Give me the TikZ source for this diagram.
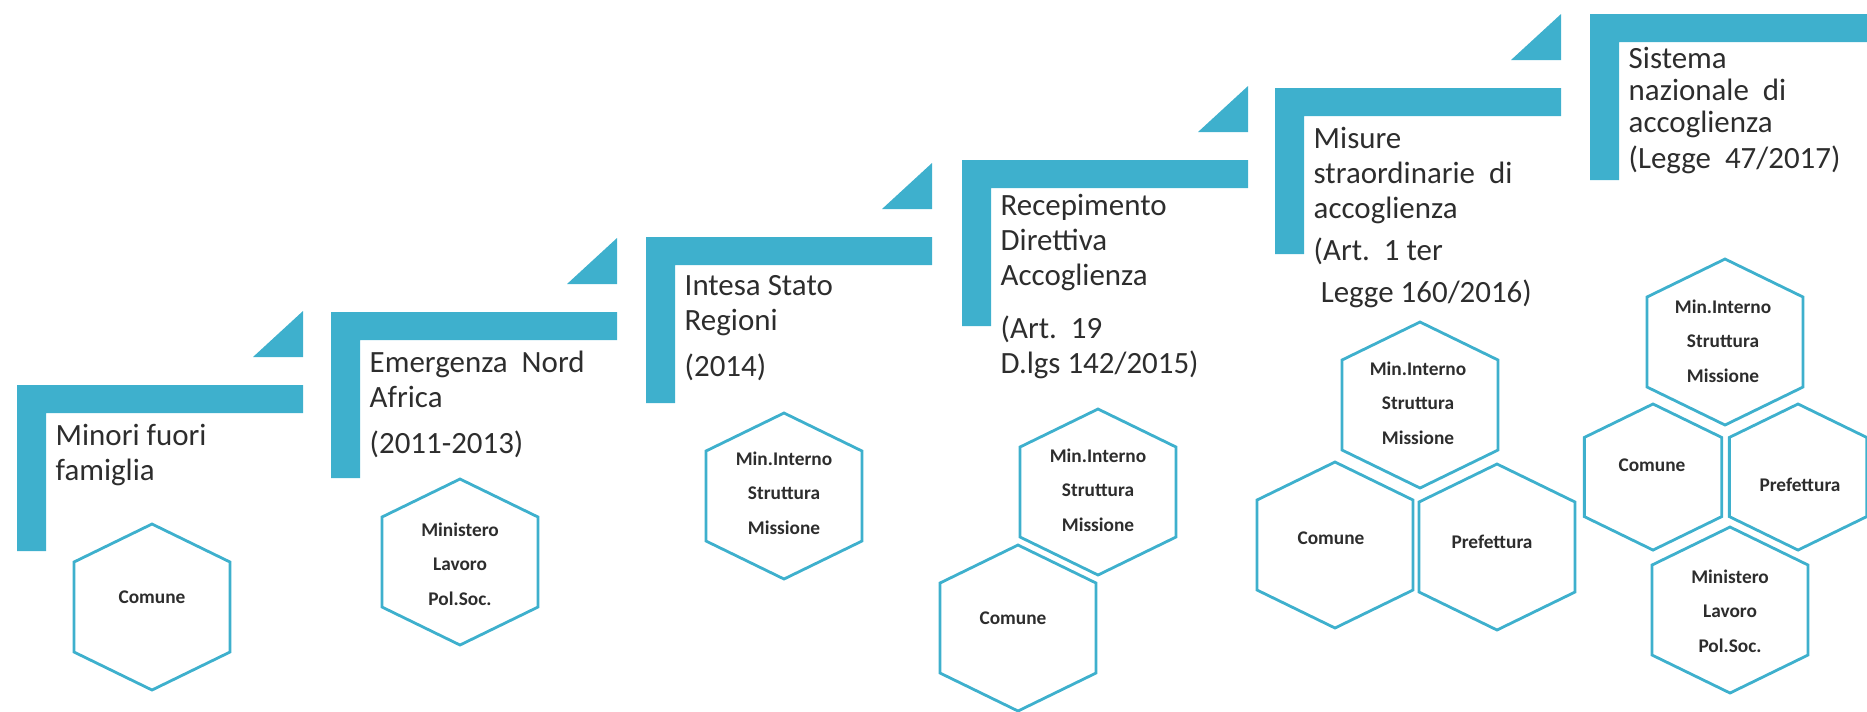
\documentclass[tikz,border=0pt]{standalone}
\usepackage{fontspec}
\setmainfont{Carlito}
\usepackage{tikz}
\definecolor{stepblue}{RGB}{62,176,205}
\definecolor{textgrey}{RGB}{45,45,45}

\begin{document}
\begin{tikzpicture}[x=0.1mm,y=-0.1mm,
  stepbar/.style={fill=stepblue},
  steptext/.style={anchor=north west,inner sep=0pt,align=left,text=textgrey,font=\fontsize{8.8}{10}\selectfont},
  hexline/.style={draw=stepblue,line width=0.8pt},
  hextext/.style={inner sep=0pt,align=center,text=textgrey,font=\fontsize{5.5}{9.8}\selectfont\bfseries},
  stair/.pic={\fill[stepbar] (0,0) -- (286,0) -- (286,28) -- (29,28) -- (29,166) -- (0,166) -- cycle;
              \fill[stepbar] (236,-28) -- (286,-28) -- (286,-74) -- cycle;},
  hexcell/.pic={\draw[hexline,scale=#1] (0,-83) -- (78,-45) -- (78,45) -- (0,83) -- (-78,45) -- (-78,-45) -- cycle;},
  pics/hexcell/.default=1]
\clip (0,0) rectangle (1867,711);

% Steps
\pic at (17,385) {stair};
\pic at (331,312) {stair};
\pic at (646,237) {stair};
\pic at (962,160) {stair};
\pic at (1275,88) {stair};
\pic at (1590,14) {stair};

% Step labels
\node[steptext] (t1) at (55,423) {Minori fuori\\famiglia};
\node[steptext] (t2) at (369,350) {Emergenza~~Nord\\Africa\\[3pt](2011-2013)};
\node[steptext] (t3) at (684,275) {Intesa Stato\\Regioni\\[3pt](2014)};
\node[steptext] (t4) at (1000,193) {Recepimento\\Direttiva\\Accoglienza\\[5pt](Art.~~19\\D.lgs 142/2015)};
\node[steptext] (t5) at (1313,126) {Misure\\straordinarie~~di\\accoglienza\\[2pt](Art.~~1 ter\\[2pt]\hspace*{2pt}Legge 160/2016)};
\node[steptext,font=\fontsize{8.8}{9.2}\selectfont] (t6) at (1628,46) {Sistema\\nazionale~~di\\accoglienza\\[1pt](Legge~~47/2017)};

% Actors, step 1
\pic at (152,607) {hexcell};
\node[hextext] (c1) at (152,597) {Comune};

% Actors, step 2
\pic at (460,562) {hexcell};
\node[hextext] (l2) at (460,564) {Ministero\\Lavoro\\Pol.Soc.};

% Actors, step 3
\pic at (784,496) {hexcell};
\node[hextext] (i3) at (784,493) {Min.Interno\\Struttura\\Missione};

% Actors, step 4
\pic at (1098,492) {hexcell};
\node[hextext] (i4) at (1098,490) {Min.Interno\\Struttura\\Missione};
\pic at (1018,628) {hexcell};
\node[hextext] (c4) at (1013,618) {Comune};

% Actors, step 5
\pic at (1420,405) {hexcell};
\node[hextext] (i5) at (1418,403) {Min.Interno\\Struttura\\Missione};
\pic at (1335,545) {hexcell};
\node[hextext] (c5) at (1331,538) {Comune};
\pic at (1497,547) {hexcell};
\node[hextext] (p5) at (1492,542) {Prefettura};

% Actors, step 6
\pic at (1725,342) {hexcell};
\node[hextext] (i6) at (1723,341) {Min.Interno\\Struttura\\Missione};
\pic at (1653,477) {hexcell=0.88};
\node[hextext] (c6) at (1652,465) {Comune};
\pic at (1798,477) {hexcell=0.88};
\node[hextext] (p6) at (1800,485) {Prefettura};
\pic at (1730,610) {hexcell};
\node[hextext] (l6) at (1730,611) {Ministero\\Lavoro\\Pol.Soc.};
\end{tikzpicture}
\end{document}
